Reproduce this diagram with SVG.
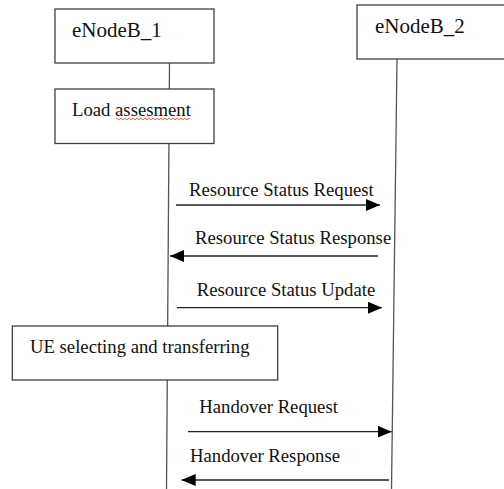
<svg xmlns="http://www.w3.org/2000/svg" width="504" height="489" viewBox="0 0 504 489">
<style>
.box{fill:#fff;stroke:#404040;stroke-width:1.3}
.life{stroke:#555;stroke-width:1.3;fill:none}
.msg{stroke:#222;stroke-width:1.3;fill:none}
.t{font-family:"Liberation Serif","Times New Roman",serif;font-size:18.7px;fill:#111}
.h{font-size:21px}
.sq{stroke:#e03030;stroke-width:0.8;fill:none}
</style>
<defs>
<marker id="ah" viewBox="0 0 14 12" refX="14" refY="6" markerWidth="14" markerHeight="12" markerUnits="userSpaceOnUse" orient="auto">
<path d="M0,0 L14,6 L0,12 Z" fill="#000"/>
</marker>
</defs>
<rect width="504" height="489" fill="#fff"/>
<g id="lifelines">
<line class="life" x1="169.5" y1="63" x2="166.5" y2="489"/>
<line class="life" x1="397" y1="59" x2="391.5" y2="489"/>
</g>
<g id="eNodeB_1">
<rect class="box" x="55" y="9" width="159" height="54"/>
<text class="t h" x="72" y="37">eNodeB_1</text>
</g>
<g id="eNodeB_2">
<rect class="box" x="357" y="5" width="160" height="54"/>
<text class="t h" x="375" y="33">eNodeB_2</text>
</g>
<g id="load">
<rect class="box" x="55" y="89" width="159" height="54.5"/>
<text class="t" x="72" y="116">Load assesment</text>
<path class="sq" d="M116,119 q1,-1.5 2,0 t2,0 t2,0 t2,0 t2,0 t2,0 t2,0 t2,0 t2,0 t2,0 t2,0 t2,0 t2,0 t2,0 t2,0 t2,0 t2,0 t2,0 t2,0 t2,0 t2,0 t2,0 t2,0 t2,0 t2,0 t2,0 t2,0 t2,0 t2,0 t2,0 t2,0 t2,0 t2,0 t2,0 t2,0 t2,0 t2,0"/>
</g>
<g id="ue">
<rect class="box" x="12.3" y="326" width="265.4" height="54"/>
<text class="t" x="30" y="352.7">UE selecting and transferring</text>
</g>
<g id="connectors">
<line class="msg" x1="176" y1="205" x2="380" y2="205" marker-end="url(#ah)"/>
<text class="t" x="189" y="196">Resource Status Request</text>
<line class="msg" x1="378" y1="256" x2="170" y2="256" marker-end="url(#ah)"/>
<text class="t" x="195" y="244">Resource Status Response</text>
<line class="msg" x1="177" y1="307.7" x2="382" y2="307.7" marker-end="url(#ah)"/>
<text class="t" x="196.7" y="296">Resource Status Update</text>
<line class="msg" x1="188" y1="431.7" x2="391.7" y2="431.7" marker-end="url(#ah)"/>
<text class="t" x="199.3" y="413">Handover Request</text>
<line class="msg" x1="389" y1="480" x2="181.7" y2="480" marker-end="url(#ah)"/>
<text class="t" x="190" y="461.7">Handover Response</text>
</g>
</svg>
